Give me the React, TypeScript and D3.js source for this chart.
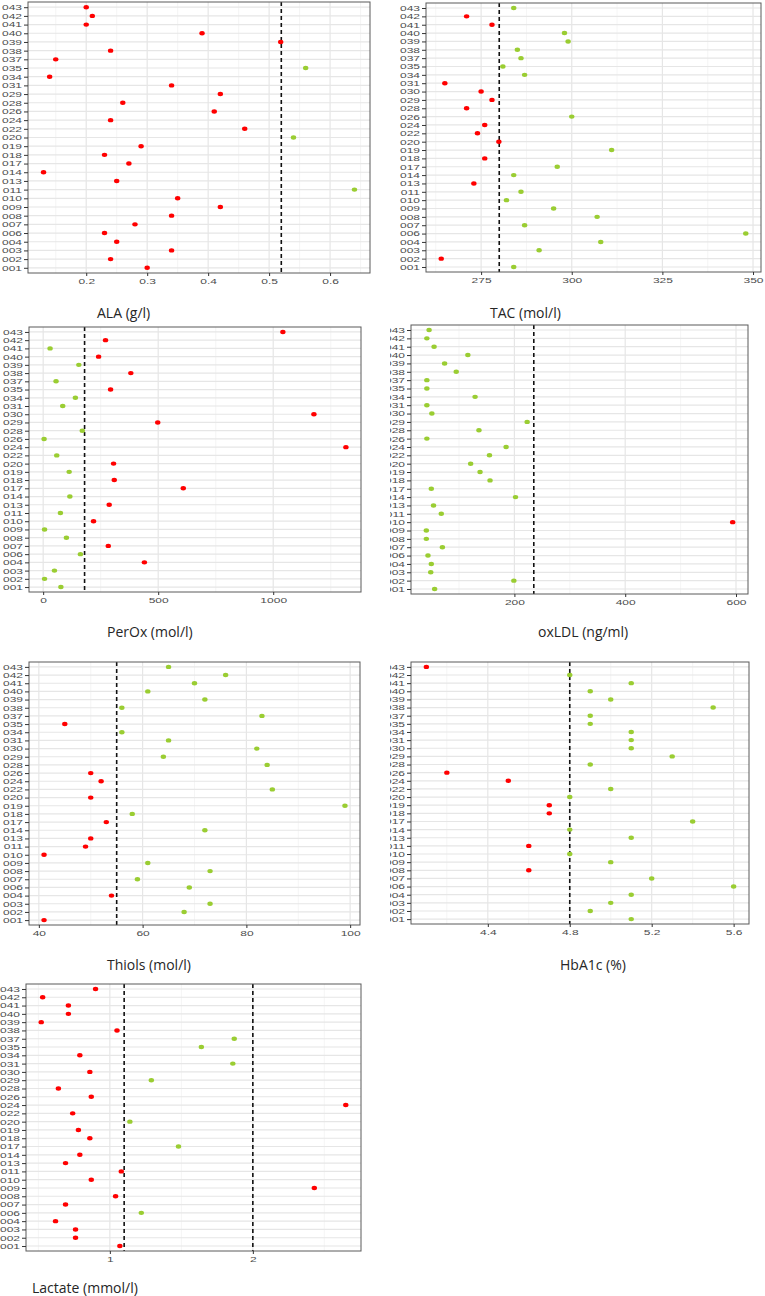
import { useEffect, useRef } from 'react';
import * as d3 from 'd3';

// patient ids, top to bottom
const ids = ['043', '042', '041', '040', '039', '038', '037', '035', '034', '031', '030', '029', '028', '026', '024', '022',
    '020', '019', '018', '017', '014', '013', '011', '010', '009', '008', '007', '006', '004', '003', '002', '001'];
const alaIds = ['043', '042', '041', '040', '039', '038', '037', '035', '034', '031', '029', '028', '026', '024', '022',
    '020', '019', '018', '017', '014', '013', '011', '010', '009', '008', '007', '006', '004', '003', '002', '001'];

const alaValues = [0.20, 0.21, 0.20, 0.39, 0.519, 0.24, 0.15, 0.56, 0.14, 0.34, 0.42, 0.26, 0.41, 0.24, 0.46,
    0.54, 0.29, 0.23, 0.27, 0.13, 0.25, 0.64, 0.35, 0.42, 0.34, 0.28, 0.23, 0.25, 0.34, 0.24, 0.30];
const tacValues = [284, 271, 278, 298, 299, 285, 286, 281, 287, 265, 275, 278, 271, 300, 276, 274,
    279.9, 311, 276, 296, 284, 273, 286, 282, 295, 307, 287, 348, 308, 291, 264, 284];
const peroxValues = [1042, 271, 30, 241, 155, 381, 56, 293, 140, 85, 1177, 498, 170, 4, 1316, 59,
    306, 113, 309, 609, 116, 287, 75, 219, 6, 101, 283, 162, 440, 49, 6, 77];
const oxldlValues = [46, 42, 55, 116, 74, 95, 42, 42, 129, 42, 51, 223, 136, 42, 185, 155,
    121, 138, 156, 50, 202, 54, 68, 594, 41, 41, 70, 44, 50, 49, 199, 56];
const thiolValues = [65, 76, 70, 61, 72, 56, 83, 45, 56, 65, 82, 64, 84, 50, 52, 85,
    50, 99, 58, 53, 72, 50, 49, 41, 61, 73, 59, 69, 54, 73, 68, 41];
const hba1cValues = [4.1, 4.8, 5.1, 4.9, 5.0, 5.5, 4.9, 4.9, 5.1, 5.1, 5.1, 5.3, 4.9, 4.2, 4.5, 5.0,
    4.8, 4.7, 4.7, 5.4, 4.8, 5.1, 4.6, 4.8, 5.0, 4.6, 5.2, 5.6, 5.1, 5.0, 4.9, 5.1];
const lactateValues = [0.90, 0.53, 0.71, 0.71, 0.52, 1.05, 1.87, 1.64, 0.79, 1.86, 0.86, 1.29, 0.64, 0.87, 2.65, 0.74,
    1.14, 0.78, 0.86, 1.48, 0.79, 0.69, 1.08, 0.87, 2.43, 1.04, 0.69, 1.22, 0.62, 0.76, 0.76, 1.07];

// tick labels and cut-offs (green = inside the range)
const alaTicks = [0.2, 0.3, 0.4, 0.5, 0.6];
const tacTicks = [275, 300, 325, 350];
const peroxTicks = [0, 500, 1000];
const oxldlTicks = [200, 400, 600];
const thiolTicks = [40, 60, 80, 100];
const hba1cTicks = [4.4, 4.8, 5.2, 5.6];
const lactateTicks = [1, 2];

const panels = [
    {title: 'ALA (g/l)', cats: alaIds, values: alaValues, ticks: alaTicks, lo: 0.52, hi: null, fmt: '.1f',
        box: [28, 370, 2, 273], tx: 97, ty: 318, clip: 0},
    {title: 'TAC (mol/l)', cats: ids, values: tacValues, ticks: tacTicks, lo: 280, hi: null, fmt: 'd',
        box: [426, 761, 3, 272], tx: 490, ty: 318, clip: 390},
    {title: 'PerOx (mol/l)', cats: ids, values: peroxValues, ticks: peroxTicks, lo: null, hi: 180, fmt: 'd',
        box: [29, 361, 327, 592], tx: 107, ty: 637, clip: 0},
    {title: 'oxLDL (ng/ml)', cats: ids, values: oxldlValues, ticks: oxldlTicks, lo: null, hi: 235, fmt: 'd',
        box: [411, 748, 325, 594], tx: 538, ty: 637, clip: 390},
    {title: 'Thiols (mol/l)', cats: ids, values: thiolValues, ticks: thiolTicks, lo: 55, hi: null, fmt: 'd',
        box: [29, 360, 662, 925], tx: 107, ty: 970, clip: 0},
    {title: 'HbA1c (%)', cats: ids, values: hba1cValues, ticks: hba1cTicks, lo: 4.8, hi: null, fmt: '.1f',
        box: [411, 749, 662, 924], tx: 560, ty: 970, clip: 390},
    {title: 'Lactate (mmol/l)', cats: ids, values: lactateValues, ticks: lactateTicks, lo: 1.1, hi: 2.0, fmt: 'd',
        box: [26, 361, 984, 1251], tx: 32, ty: 1293, clip: 0},
];

const RED = '#ff0000';
const GREEN = '#9acd32';
const STRETCH = 1.6;

export default function App() {
    const ref = useRef(null);

    useEffect(() => {
        const svg = d3.select(ref.current);
        svg.selectAll('*').remove();

        panels.forEach((p, i) => {
            const [x0, x1, y0, y1] = p.box;
            const [mn, mx] = d3.extent(p.values);
            const pad = (mx - mn) * 0.05;
            const x = d3.scaleLinear().domain([mn - pad, mx + pad]).range([x0, x1]);
            const y = d3.scalePoint().domain(p.cats).range([y0, y1]).padding(0.6);

            svg.append('clipPath').attr('id', `clip${i}`)
                .append('rect').attr('x', p.clip).attr('y', y0 - 20).attr('width', 765 - p.clip).attr('height', y1 - y0 + 60);
            const g = svg.append('g').attr('clip-path', `url(#clip${i})`);

            g.append('rect').attr('x', x0).attr('y', y0).attr('width', x1 - x0).attr('height', y1 - y0).attr('fill', '#fff');

            // minor grid halfway between the major ticks
            const step = p.ticks[1] - p.ticks[0];
            const minor = d3.range(p.ticks[0] - step / 2, mx + pad + step, step).filter((v) => x(v) > x0 && x(v) < x1);
            g.selectAll('.minor').data(minor).enter().append('line')
                .attr('x1', (d) => x(d)).attr('x2', (d) => x(d)).attr('y1', y0).attr('y2', y1)
                .attr('stroke', '#f3f3f3').attr('stroke-width', 0.8);
            g.selectAll('.major').data(p.ticks).enter().append('line')
                .attr('x1', (d) => x(d)).attr('x2', (d) => x(d)).attr('y1', y0).attr('y2', y1)
                .attr('stroke', '#e6e6e6').attr('stroke-width', 1.2);
            g.selectAll('.hgrid').data(p.cats).enter().append('line')
                .attr('x1', x0).attr('x2', x1).attr('y1', (d) => y(d)).attr('y2', (d) => y(d))
                .attr('stroke', '#e6e6e6').attr('stroke-width', 1.2);

            const cuts = [p.lo, p.hi].filter((v) => v != null);
            g.selectAll('.cut').data(cuts).enter().append('line')
                .attr('x1', (d) => x(d)).attr('x2', (d) => x(d)).attr('y1', y0).attr('y2', y1)
                .attr('stroke', '#111').attr('stroke-width', 1.6).attr('stroke-dasharray', '4,3');

            const pts = p.cats.map((c, k) => ({c, v: p.values[k]}));
            g.selectAll('.pt').data(pts).enter().append('ellipse')
                .attr('cx', (d) => x(d.v)).attr('cy', (d) => y(d.c)).attr('rx', 2.7).attr('ry', 2.2)
                .attr('fill', (d) => ((p.lo == null || d.v >= p.lo) && (p.hi == null || d.v <= p.hi) ? GREEN : RED));

            g.append('rect').attr('x', x0).attr('y', y0).attr('width', x1 - x0).attr('height', y1 - y0)
                .attr('fill', 'none').attr('stroke', '#5a5a5a').attr('stroke-width', 1);

            const ya = g.append('g').attr('transform', `translate(${x0},0)`)
                .call(d3.axisLeft(y).tickSize(4).tickPadding(2));
            const xa = g.append('g').attr('transform', `translate(0,${y1})`)
                .call(d3.axisBottom(x).tickValues(p.ticks).tickSize(3).tickFormat(d3.format(p.fmt)));
            [ya, xa].forEach((a) => {
                a.select('.domain').remove();
                a.selectAll('line').attr('stroke', '#333');
                a.selectAll('text').attr('fill', '#4d4d4d').attr('font-size', 7.5)
                    .attr('font-family', '"Liberation Sans", Arial, sans-serif');
            });
            ya.selectAll('text').attr('x', 0).attr('transform', `translate(-6,0) scale(${STRETCH},1)`);
            xa.selectAll('text').attr('y', 0).attr('transform', `translate(0,6) scale(${STRETCH},1)`);

            svg.append('text').attr('x', p.tx).attr('y', p.ty).text(p.title)
                .attr('font-family', '"Open Sans", sans-serif').attr('font-size', 14).attr('fill', '#262626');
        });
    }, []);

    return (
        <svg ref={ref} width={765} height={1296} viewBox="0 0 765 1296"
             style={{position: 'absolute', left: 0, top: 0, background: '#fff'}}></svg>
    );
}
